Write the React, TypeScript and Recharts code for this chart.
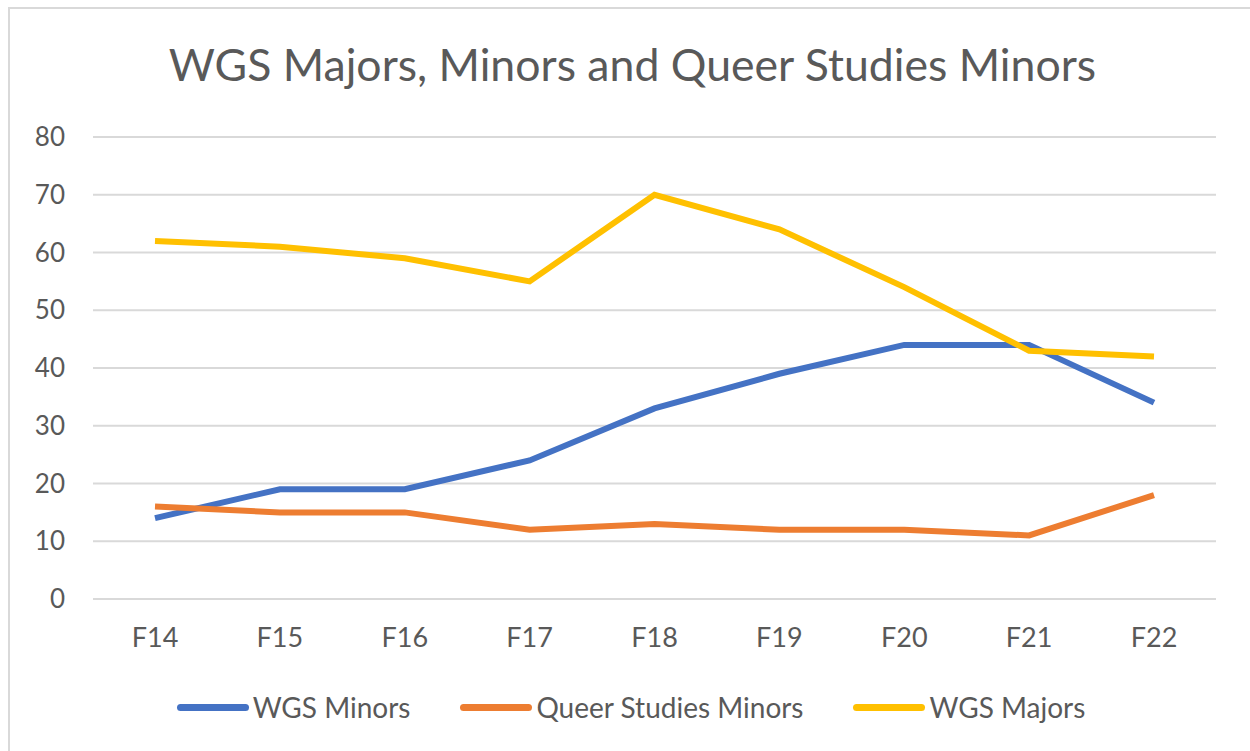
import { CartesianGrid, Legend, Line, LineChart, XAxis, YAxis } from 'recharts';

const terms = ['F14', 'F15', 'F16', 'F17', 'F18', 'F19', 'F20', 'F21', 'F22'];
const wgsMinors = [14, 19, 19, 24, 33, 39, 44, 44, 34];
const queerMinors = [16, 15, 15, 12, 13, 12, 12, 11, 18];
const wgsMajors = [62, 61, 59, 55, 70, 64, 54, 43, 42];
const yTicks = [0, 10, 20, 30, 40, 50, 60, 70, 80];

const seriesList = [
  { key: 'minors', name: 'WGS Minors', color: '#4472c4' },
  { key: 'queer', name: 'Queer Studies Minors', color: '#ed7d31' },
  { key: 'majors', name: 'WGS Majors', color: '#ffc000' }
];

const FONT = 'Lato, "Open Sans", sans-serif';
const TEXT = '#595959';

const chartData = terms.map((term, i) => ({
  term,
  minors: wgsMinors[i],
  queer: queerMinors[i],
  majors: wgsMajors[i]
}));

function LegendRow() {
  return (
    <div style={{ display: 'flex', justifyContent: 'center', gap: 50, fontFamily: FONT, fontSize: 28, color: TEXT, paddingLeft: 46 }}>
      {seriesList.map((s) => (
        <div key={s.key} style={{ display: 'flex', alignItems: 'center' }}>
          <span style={{ display: 'inline-block', width: 72, height: 7, borderRadius: 4, background: s.color, marginRight: 4 }} />
          <span>{s.name}</span>
        </div>
      ))}
    </div>
  );
}

export default function App() {
  return (
    <div style={{ position: 'absolute', left: 0, top: 0, width: 1250, height: 751, background: '#fff', overflow: 'hidden' }}>
      <div style={{ position: 'absolute', left: 8, top: 7, width: 1300, height: 800, borderLeft: '2px solid #d9d9d9', borderTop: '2px solid #d9d9d9' }} />
      <div style={{ position: 'absolute', left: 0, top: 37, width: 1265, textAlign: 'center', fontFamily: FONT, fontSize: 44.6, color: TEXT }}>
        WGS Majors, Minors and Queer Studies Minors
      </div>
      <LineChart width={1250} height={751} data={chartData} margin={{ top: 137, right: 34, left: 0, bottom: 27 }}>
        <CartesianGrid vertical={false} stroke="#d9d9d9" strokeWidth={2} />
        <XAxis dataKey="term" padding={{ left: 62, right: 62 }} axisLine={{ stroke: '#d9d9d9', strokeWidth: 2 }} tickLine={false} tickSize={0} tickMargin={29} height={91} tick={{ fill: TEXT, fontSize: 27, fontFamily: FONT }} />
        <YAxis domain={[0, 80]} ticks={yTicks} axisLine={false} tickLine={false} tickSize={0} tickMargin={28} width={93} tick={{ fill: TEXT, fontSize: 26, fontFamily: FONT }} />
        <Legend verticalAlign="bottom" content={<LegendRow />} />
        {seriesList.map((s) => (
          <Line key={s.key} dataKey={s.key} name={s.name} stroke={s.color} strokeWidth={6} dot={false} isAnimationActive={false} />
        ))}
      </LineChart>
    </div>
  );
}
